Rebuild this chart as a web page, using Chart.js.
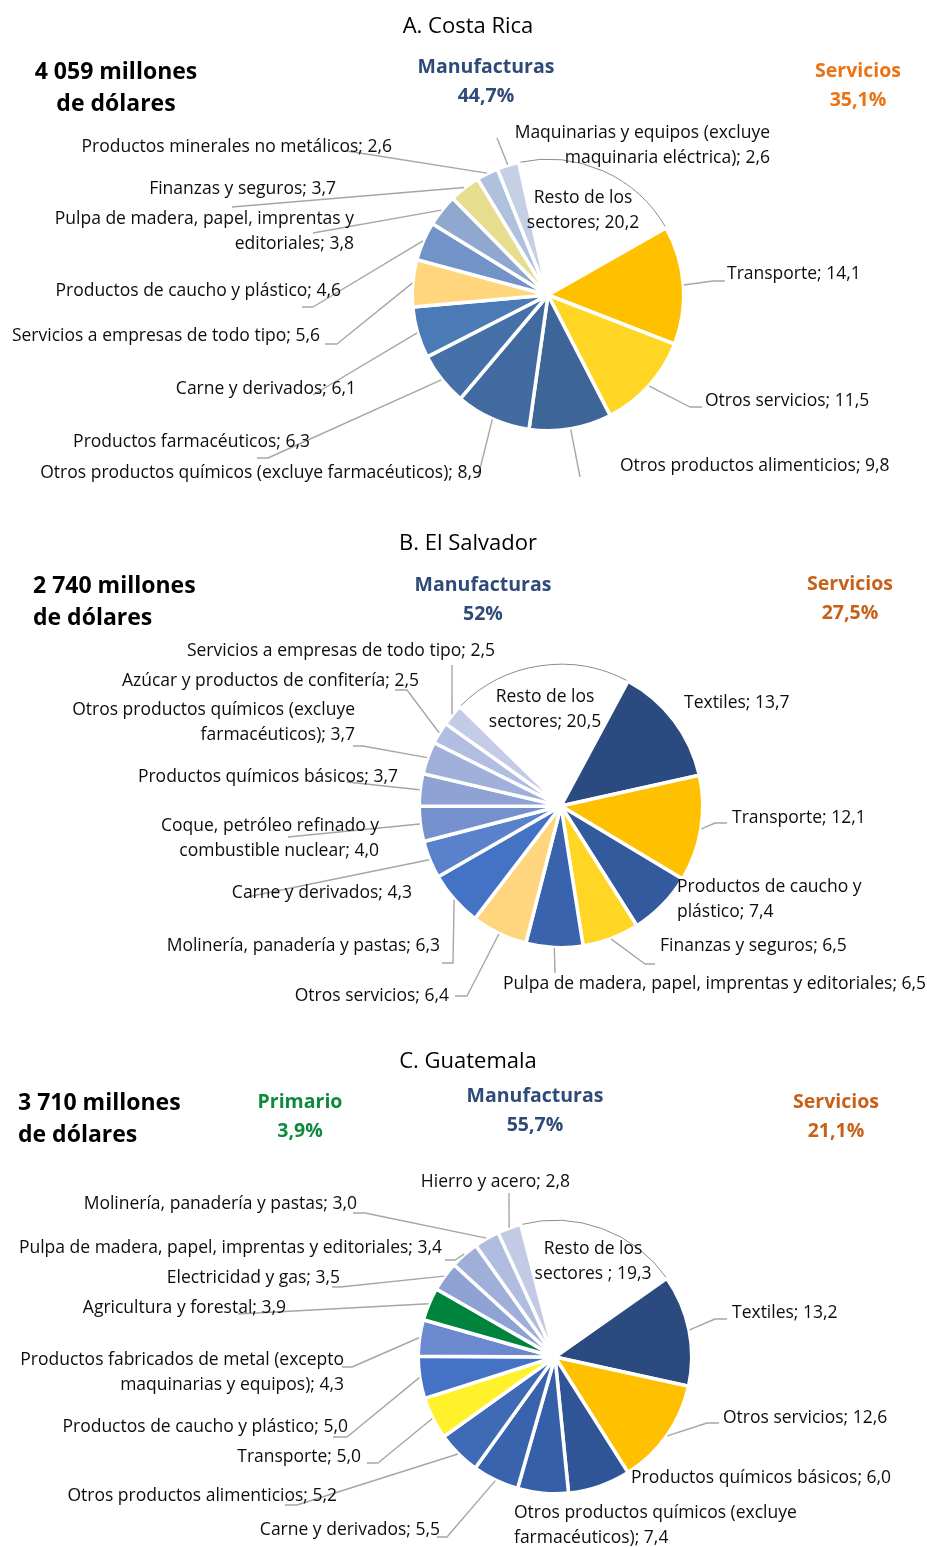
<!DOCTYPE html>
<html><head><meta charset="utf-8">
<script src="https://cdn.jsdelivr.net/npm/chart.js@4.4.1/dist/chart.umd.min.js"></script>
<style>
html,body{margin:0;padding:0;background:#fff;}
#wrap{position:relative;width:927px;height:1547px;overflow:hidden;}
canvas{position:absolute;left:0;}
</style></head><body><div id="wrap">
<canvas id="cA" width="927" height="515" style="top:0px"></canvas>
<canvas id="cB" width="927" height="515" style="top:515px"></canvas>
<canvas id="cC" width="927" height="517" style="top:1030px"></canvas>
</div>
<script>
// ---------- DATA ----------
const crTitle = "A. Costa Rica";
const crTotal = ["4 059 millones", "de dólares"];
const crGroups = ["Manufacturas", "Servicios"];
const crShares = ["44,7%", "35,1%"];
const crCategories = ["Resto de los sectores", "Transporte", "Otros servicios", "Otros productos alimenticios",
  "Otros productos químicos (excluye farmacéuticos)", "Productos farmacéuticos", "Carne y derivados",
  "Servicios a empresas de todo tipo", "Productos de caucho y plástico",
  "Pulpa de madera, papel, imprentas y editoriales", "Finanzas y seguros",
  "Productos minerales no metálicos", "Maquinarias y equipos (excluye maquinaria eléctrica)"];
const crValues = [20.2, 14.1, 11.5, 9.8, 8.9, 6.3, 6.1, 5.6, 4.6, 3.8, 3.7, 2.6, 2.6];

const svTitle = "B. El Salvador";
const svTotal = ["2 740 millones", "de dólares"];
const svGroups = ["Manufacturas", "Servicios"];
const svShares = ["52%", "27,5%"];
const svCategories = ["Resto de los sectores", "Textiles", "Transporte", "Productos de caucho y plástico",
  "Finanzas y seguros", "Pulpa de madera, papel, imprentas y editoriales", "Otros servicios",
  "Molinería, panadería y pastas", "Carne y derivados", "Coque, petróleo refinado y combustible nuclear",
  "Productos químicos básicos", "Otros productos químicos (excluye farmacéuticos)",
  "Azúcar y productos de confitería", "Servicios a empresas de todo tipo"];
const svValues = [20.5, 13.7, 12.1, 7.4, 6.5, 6.5, 6.4, 6.3, 4.3, 4.0, 3.7, 3.7, 2.5, 2.5];

const gtTitle = "C. Guatemala";
const gtTotal = ["3 710 millones", "de dólares"];
const gtGroups = ["Primario", "Manufacturas", "Servicios"];
const gtShares = ["3,9%", "55,7%", "21,1%"];
const gtCategories = ["Resto de los sectores ", "Textiles", "Otros servicios",
  "Otros productos químicos (excluye farmacéuticos)", "Productos químicos básicos", "Carne y derivados",
  "Otros productos alimenticios", "Transporte", "Productos de caucho y plástico",
  "Productos fabricados de metal (excepto maquinarias y equipos)", "Agricultura y forestal",
  "Electricidad y gas", "Pulpa de madera, papel, imprentas y editoriales",
  "Molinería, panadería y pastas", "Hierro y acero"];
const gtValues = [19.3, 13.2, 12.6, 7.4, 6.0, 5.5, 5.2, 5.0, 5.0, 4.3, 3.9, 3.5, 3.4, 3.0, 2.8];

// ---------- STYLES ----------
const crColors = ['#FFFFFF','#FFC000','#FFD624','#3D6598','#416BA0','#4571A8','#4A7BB7','#FFD57E','#7193C7','#8FA8D0','#E7DD8E','#B0C1DE','#C5D0E5'];
const svColors = ['#FFFFFF','#2A4A80','#FFC000','#325A9C','#FFD624','#3A63AD','#FFD67D','#4472C4','#5A81CB','#7690CE','#8EA2D4','#A1B0DA','#B2BEE1','#C3CBE7'];
const gtColors = ['#FFFFFF','#2A4A80','#FFC000','#2F5597','#355FA6','#3A63AD','#3F6AB6','#FFF22A','#4472C4','#6C88CF','#00843D','#8FA2D4','#A0AFD9','#B0BDE0','#C2CAE6'];

// ---------- LAYOUT (page coordinates of texts / leader elbows) ----------
const crLayout = {
  top: 0, h: 515, cx: 548, cy: 295, r: 134, rotation: -12.5,
  title: {x: 468, y: 25},
  total: {x: 116, y: 70, align: 'center'},
  groups: [{x: 486, y: 65, color: '#2E4A78'}, {x: 858, y: 69, color: '#EB7314'}],
  labels: [
    {x: 583, y: 197, align: 'center', brk: 'de los'},
    {x: 727, y: 273, align: 'left', path: [[713, 281], [725, 281]]},
    {x: 705, y: 400, align: 'left', path: [[690, 407], [702, 407]]},
    {x: 620, y: 465, align: 'left', path: [[580, 477]]},
    {x: 482, y: 472, align: 'right', path: [[478, 477]]},
    {x: 310, y: 441, align: 'right', path: [[268, 458], [257, 458]]},
    {x: 356, y: 388, align: 'right', path: [[313, 395]]},
    {x: 320, y: 335, align: 'right', path: [[337, 344], [325, 344]]},
    {x: 341, y: 290, align: 'right', path: [[313, 307], [302, 307]]},
    {x: 354, y: 218, align: 'right', brk: 'imprentas y', path: [[313, 233]]},
    {x: 336, y: 188, align: 'right', path: [[232, 207]]},
    {x: 392, y: 146, align: 'right', path: [[347, 151]]},
    {x: 770, y: 132, align: 'right', brk: '(excluye', path: [[497, 138]]}
  ]
};
const svLayout = {
  top: 515, h: 515, cx: 561, cy: 806, r: 140, rotation: -45.5,
  title: {x: 468, y: 542},
  total: {x: 33, y: 584, align: 'left'},
  groups: [{x: 483, y: 583, color: '#2E4A78'}, {x: 850, y: 582, color: '#C8601A'}],
  labels: [
    {x: 545, y: 696, align: 'center', brk: 'de los'},
    {x: 684, y: 702, align: 'left'},
    {x: 732, y: 817, align: 'left', path: [[715, 823], [727, 823]]},
    {x: 677, y: 886, align: 'left', brk: 'caucho y'},
    {x: 660, y: 945, align: 'left', path: [[645, 964], [655, 964]]},
    {x: 503, y: 983, align: 'left', path: [[555, 973]]},
    {x: 449, y: 995, align: 'right', path: [[467, 996], [455, 996]]},
    {x: 440, y: 945, align: 'right', path: [[453, 963], [442, 963]]},
    {x: 412, y: 892, align: 'right', path: [[247, 897]]},
    {x: 379, y: 825, align: 'right', brk: 'refinado y', path: [[288, 837]]},
    {x: 398, y: 776, align: 'right', path: [[347, 782]]},
    {x: 355, y: 709, align: 'right', brk: '(excluye', path: [[363, 746], [353, 746]]},
    {x: 419, y: 680, align: 'right', path: [[407, 690], [395, 690]]},
    {x: 495, y: 650, align: 'right', path: [[452, 665]]}
  ]
};
const gtLayout = {
  top: 1030, h: 517, cx: 555, cy: 1357, r: 135, rotation: -14.5,
  title: {x: 468, y: 1060},
  total: {x: 18, y: 1101, align: 'left'},
  groups: [{x: 300, y: 1100, color: '#0E8A3E'}, {x: 535, y: 1094, color: '#2E4A78'}, {x: 836, y: 1100, color: '#C8601A'}],
  labels: [
    {x: 593, y: 1248, align: 'center', brk: 'de los'},
    {x: 732, y: 1312, align: 'left', path: [[715, 1319], [727, 1319]]},
    {x: 723, y: 1417, align: 'left', path: [[707, 1423], [719, 1423]]},
    {x: 514, y: 1512, align: 'left', brk: '(excluye'},
    {x: 631, y: 1477, align: 'left'},
    {x: 440, y: 1529, align: 'right', path: [[447, 1537], [437, 1537]]},
    {x: 337, y: 1495, align: 'right', path: [[297, 1505], [285, 1505]]},
    {x: 361, y: 1456, align: 'right', path: [[378, 1463], [367, 1463]]},
    {x: 348, y: 1426, align: 'right', path: [[347, 1437], [333, 1437]]},
    {x: 344, y: 1359, align: 'right', brk: '(excepto', path: [[352, 1367], [342, 1367]]},
    {x: 286, y: 1307, align: 'right', path: [[238, 1314]]},
    {x: 340, y: 1277, align: 'right', path: [[340, 1287], [332, 1287]]},
    {x: 442, y: 1247, align: 'right', path: [[455, 1260], [445, 1260]]},
    {x: 357, y: 1203, align: 'right', path: [[365, 1213], [353, 1213]]},
    {x: 570, y: 1181, align: 'right', path: [[509, 1193]]}
  ]
};

const FONT = '"Open Sans", "Noto Sans", sans-serif';
const LABEL_FONT = '17.5px ' + FONT;
const LINE_H = 24.5;
const TXT_DY = 1.5;   // baseline correction for the substitute font

function fmt(v) { return v.toFixed(1).replace('.', ','); }

function splitLabel(text, brk) {
  if (!brk) return [text];
  const i = text.indexOf(brk);
  if (i < 0) return [text];
  const k = i + brk.length;
  return [text.slice(0, k), text.slice(k).trim()];
}

function makeChart(id, cats, vals, colors, layout, title, total, groups, shares) {
  const W = 927, H = layout.h;
  const R = layout.r + 1.75;
  const cyl = layout.cy - layout.top;
  const Y = v => v - layout.top + TXT_DY;
  const YL = v => v - layout.top;
  const plugin = {
    id: 'annot_' + id,
    afterDraw(chart) {
      const ctx = chart.ctx;
      ctx.save();
      const meta = chart.getDatasetMeta(0);
      ctx.strokeStyle = '#A6A6A6';
      ctx.lineWidth = 1.4;
      ctx.lineJoin = 'round';
      meta.data.forEach((arc, i) => {
        const L = layout.labels[i];
        const p = arc.getProps(['x', 'y', 'startAngle', 'endAngle', 'outerRadius'], true);
        const mid = (p.startAngle + p.endAngle) / 2;
        const rr = p.outerRadius + 0.5;
        if (L.path) {
          ctx.beginPath();
          ctx.moveTo(p.x + Math.cos(mid) * rr, p.y + Math.sin(mid) * rr);
          L.path.forEach(pt => ctx.lineTo(pt[0], YL(pt[1])));
          ctx.stroke();
        }
      });
      ctx.fillStyle = '#0D0D0D';
      ctx.font = LABEL_FONT;
      ctx.textBaseline = 'middle';
      meta.data.forEach((arc, i) => {
        const L = layout.labels[i];
        const text = cats[i] + '; ' + fmt(vals[i]);
        const lines = splitLabel(text, L.brk);
        ctx.textAlign = L.align;
        lines.forEach((ln, j) => ctx.fillText(ln, L.x, Y(L.y + j * LINE_H)));
      });
      ctx.textAlign = 'center';
      ctx.font = '22px ' + FONT;
      ctx.fillStyle = '#000';
      ctx.fillText(title, layout.title.x, Y(layout.title.y + 0.5));
      ctx.font = 'bold 23px ' + FONT;
      ctx.textAlign = layout.total.align;
      total.forEach((t, j) => ctx.fillText(t, layout.total.x, Y(layout.total.y + 0.5 + j * 32)));
      ctx.font = 'bold 19.5px ' + FONT;
      ctx.textAlign = 'center';
      groups.forEach((g, j) => {
        const G = layout.groups[j];
        ctx.fillStyle = G.color;
        ctx.fillText(g, G.x, Y(G.y + 0.5));
        ctx.fillText(shares[j], G.x, Y(G.y + 29.5));
      });
      ctx.restore();
    }
  };
  const borders = colors.map((c, i) => i === 0 ? '#8C8C8C' : '#FFFFFF');
  const widths = colors.map((c, i) => i === 0 ? 1 : 3.5);
  return new Chart(document.getElementById(id), {
    type: 'pie',
    data: {
      labels: cats,
      datasets: [{
        data: vals,
        backgroundColor: colors,
        borderColor: borders,
        borderWidth: widths,
        rotation: layout.rotation,
        radius: R
      }]
    },
    options: {
      responsive: false,
      animation: false,
      events: [],
      rotation: layout.rotation,
      radius: R,
      layout: {padding: {left: layout.cx - R, right: W - layout.cx - R, top: cyl - R, bottom: H - cyl - R}},
      plugins: {legend: {display: false}, tooltip: {enabled: false}}
    },
    plugins: [plugin]
  });
}

makeChart('cA', crCategories, crValues, crColors, crLayout, crTitle, crTotal, crGroups, crShares);
makeChart('cB', svCategories, svValues, svColors, svLayout, svTitle, svTotal, svGroups, svShares);
makeChart('cC', gtCategories, gtValues, gtColors, gtLayout, gtTitle, gtTotal, gtGroups, gtShares);
</script>
</body></html>
